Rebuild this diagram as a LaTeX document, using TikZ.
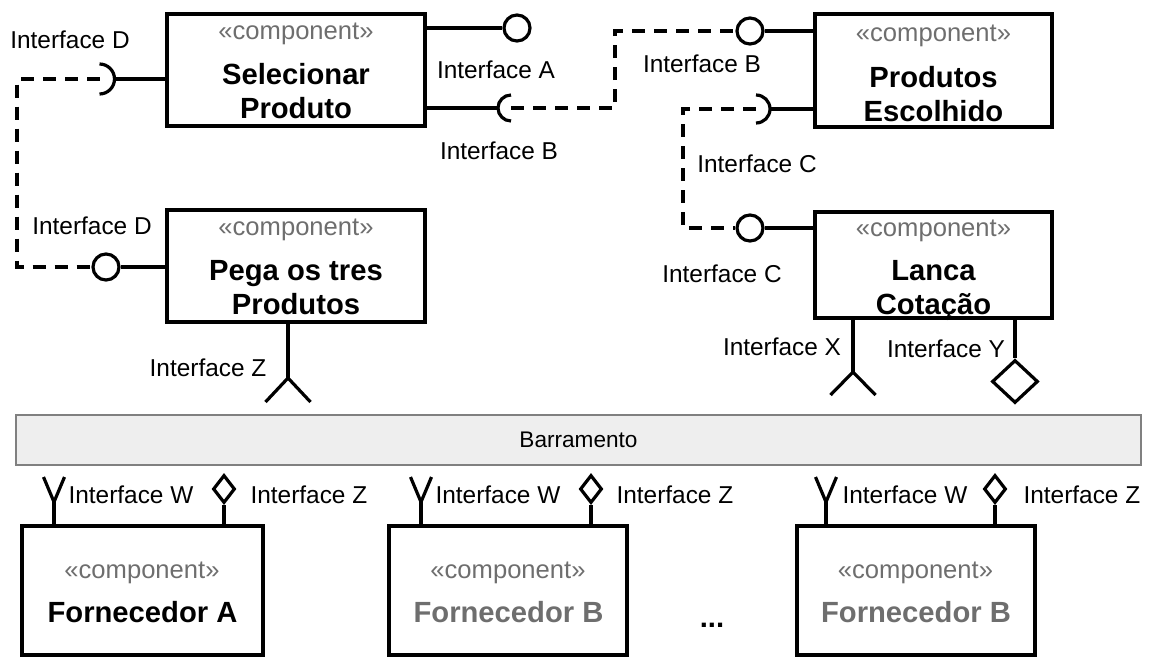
\documentclass[tikz,border=0pt]{standalone}
\usepackage{fontspec}
\setmainfont{Liberation Sans}
\usetikzlibrary{shapes.geometric}
\definecolor{stereoGray}{HTML}{6E6E6E}
\definecolor{busFill}{HTML}{EEEEEE}
\definecolor{busLine}{HTML}{808080}
\newcommand{\drawcomp}[1][]{\node[draw,rectangle,line width=1.9pt,inner sep=0,#1]}
\newcommand{\drawstereo}{\node[inner sep=0,text=stereoGray,font=\fontsize{12.8}{15}\selectfont]}
\newcommand{\drawname}[1][]{\node[inner sep=0,align=center,font=\fontsize{14.6}{17}\selectfont\bfseries,#1]}
\newcommand{\drawball}{\node[draw,circle,line width=1.6pt,minimum size=13pt,inner sep=0]}
\newcommand{\drawdiam}[1][]{\node[draw,diamond,line width=1.6pt,inner sep=0,#1]}
\newcommand{\drawdummy}{\node[minimum size=0,inner sep=0]}
\newcommand{\drawlabel}[1][]{\node[inner sep=0,font=\fontsize{12.2}{14}\selectfont,#1]}

\begin{document}
\begin{tikzpicture}[x=0.5pt,y=-0.5pt,line width=1.6pt,dashline/.style={dash pattern=on 6.5pt off 4.5pt}]
\useasboundingbox (0,0) rectangle (1156,659);
%components
\drawcomp[minimum width=129pt,minimum height=56pt] (sel) at (296,70) {};
\drawstereo (selSt) at (296,34) {«component»};
\drawname (selName) at (296,91) {Selecionar\\Produto};
\drawcomp[minimum width=129pt,minimum height=56pt] (pega) at (296,266) {};
\drawstereo (pegaSt) at (296,230) {«component»};
\drawname (pegaName) at (296,287.5) {Pega os tres\\Produtos};
\drawcomp[minimum width=118.5pt,minimum height=56.5pt] (esc) at (933.5,70.5) {};
\drawstereo (escSt) at (933.5,36) {«component»};
\drawname (escName) at (933.5,94) {Produtos\\Escolhido};
\drawcomp[minimum width=118.5pt,minimum height=53pt] (lanca) at (933.5,265) {};
\drawstereo (lancaSt) at (933.5,231) {«component»};
\drawname (lancaName) at (933.5,290) {Lanca\\Cotação};

%Selecionar Produto
\drawball (ifA) at (517,28) {};
\draw (sel.east |- ifA) to (ifA);
\drawlabel (lblA) at (496,70) {Interface A};
\drawdummy (sockB) at (511,108) {};
\draw (sel.east |- sockB) to ([xshift=-6.5pt]sockB.center);
\draw ([yshift=6.5pt]sockB.center) arc[start angle=90,end angle=270,radius=6.5pt];
\drawlabel (lblB1) at (499,151) {Interface B};
\drawdummy (sockD) at (99.5,79) {};
\draw (sel.west |- sockD) to ([xshift=7.5pt]sockD.center);
\draw ([yshift=7.5pt]sockD.center) arc[start angle=90,end angle=-90,radius=7.5pt];
\drawlabel (lblD1) at (70,40) {Interface D};

%Pega os tres Produtos
\drawball (ifD) at (106,267) {};
\draw (pega.west |- ifD) to (ifD);
\drawlabel (lblD2) at (92,226) {Interface D};
\drawdummy (forkZ) at (288,378) {};
\draw (pega.south -| forkZ) to (forkZ.center);
\draw ([shift={(-11.25pt,-12pt)}]forkZ.center) to (forkZ.center) to ([shift={(11.25pt,-12pt)}]forkZ.center);
\drawlabel (lblZ) at (208,368) {Interface Z};

%Produtos Escolhido
\drawball (ifB) at (750,31) {};
\draw (esc.west |- ifB) to (ifB);
\drawlabel (lblB2) at (702,64) {Interface B};
\drawdummy (sockC) at (756,109) {};
\draw (esc.west |- sockC) to ([xshift=7pt]sockC.center);
\draw ([yshift=7pt]sockC.center) arc[start angle=90,end angle=-90,radius=7pt];
\drawlabel (lblC1) at (757,164) {Interface C};

%Lanca Cotacao
\drawball (ifC) at (750,228) {};
\draw (lanca.west |- ifC) to (ifC);
\drawlabel (lblC2) at (722,274) {Interface C};
\drawdummy (forkX) at (853,372) {};
\draw (lanca.south -| forkX) to (forkX.center);
\draw ([shift={(-11.25pt,-11.5pt)}]forkX.center) to (forkX.center) to ([shift={(11.25pt,-11.5pt)}]forkX.center);
\drawlabel (lblX) at (782,347) {Interface X};
\drawdiam[minimum width=23pt,minimum height=21.5pt] (diamY) at (1015,381.5) {};
\draw (lanca.south -| diamY) to (diamY.north);
\drawlabel (lblY) at (946,349) {Interface Y};

%dashed assembly links
\coordinate (dLeft) at (17,170);
\coordinate (bMid) at (615,70);
\coordinate (cMid) at (683,170);
\draw[dashline] (sockD.center) -| (dLeft) |- (ifD);
\draw[dashline] (sockB.center) -| (bMid) |- (ifB);
\draw[dashline] (sockC.center) -| (cMid) |- (ifC);

%bus
\node[draw=busLine,fill=busFill,line width=0.75pt,minimum width=562.5pt,minimum height=25pt,inner sep=0,font=\fontsize{11.3}{13}\selectfont] (bus) at (578.5,440) {Barramento};

%suppliers
\drawcomp[minimum width=120.5pt,minimum height=64.5pt] (fornA) at (142.5,590.5) {};
\drawstereo (fornASt) at (142,572.5) {«component»};
\drawname (fornAName) at (142.5,612) {Fornecedor A};
\drawcomp[minimum width=119pt,minimum height=64.5pt] (fornB) at (508,590.5) {};
\drawstereo (fornBSt) at (508,572.5) {«component»};
\drawname[text=stereoGray] (fornBName) at (508.5,612) {Fornecedor B};
\drawcomp[minimum width=119pt,minimum height=64.5pt] (fornC) at (916,590.5) {};
\drawstereo (fornCSt) at (915.5,572.5) {«component»};
\drawname[text=stereoGray] (fornCName) at (916,612) {Fornecedor B};
\drawname (dots) at (712,625) {...};

\drawdummy (wA) at (54,502) {};
\drawdummy (wB) at (421,502) {};
\drawdummy (wC) at (826,502) {};
\drawdiam[minimum width=11pt,minimum height=14pt] (zA) at (224,489) {};
\drawdiam[minimum width=11pt,minimum height=14pt] (zB) at (591,489) {};
\drawdiam[minimum width=11pt,minimum height=14pt] (zC) at (995,489) {};

\draw (fornA.north -| wA) to (wA.center);
\draw ([shift={(-5.25pt,12.5pt)}]wA.center) to (wA.center) to ([shift={(5.25pt,12.5pt)}]wA.center);
\draw (fornA.north -| zA) to (zA.south);
\draw (fornB.north -| wB) to (wB.center);
\draw ([shift={(-5.25pt,12.5pt)}]wB.center) to (wB.center) to ([shift={(5.25pt,12.5pt)}]wB.center);
\draw (fornB.north -| zB) to (zB.south);
\draw (fornC.north -| wC) to (wC.center);
\draw ([shift={(-5.25pt,12.5pt)}]wC.center) to (wC.center) to ([shift={(5.25pt,12.5pt)}]wC.center);
\draw (fornC.north -| zC) to (zC.south);

\drawlabel[anchor=west] (lblWA) at (67,495) {Interface W};
\drawlabel[anchor=west] (lblZA) at (249,495) {Interface Z};
\drawlabel[anchor=west] (lblWB) at (434,495) {Interface W};
\drawlabel[anchor=west] (lblZB) at (615,495) {Interface Z};
\drawlabel[anchor=west] (lblWC) at (841,495) {Interface W};
\drawlabel[anchor=west] (lblZC) at (1022,495) {Interface Z};
\end{tikzpicture}
\end{document}
